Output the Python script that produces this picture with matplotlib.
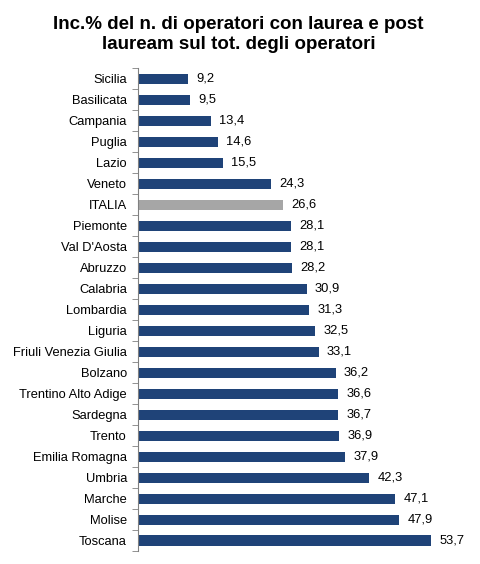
import numpy as np
import matplotlib
matplotlib.use("Agg")
import matplotlib.pyplot as plt
from matplotlib.ticker import FixedLocator

plt.rcParams['font.family'] = ['Liberation Sans', 'DejaVu Sans']

regioni = ["Sicilia", "Basilicata", "Campania", "Puglia", "Lazio", "Veneto",
           "ITALIA", "Piemonte", "Val D'Aosta", "Abruzzo", "Calabria",
           "Lombardia", "Liguria", "Friuli Venezia Giulia", "Bolzano",
           "Trentino Alto Adige", "Sardegna", "Trento", "Emilia Romagna",
           "Umbria", "Marche", "Molise", "Toscana"]
valori = [9.2, 9.5, 13.4, 14.6, 15.5, 24.3, 26.6, 28.1, 28.1, 28.2, 30.9,
          31.3, 32.5, 33.1, 36.2, 36.6, 36.7, 36.9, 37.9, 42.3, 47.1, 47.9, 53.7]

blu = "#1F4378"
grigio = "#A6A6A6"
colori = [grigio if r == "ITALIA" else blu for r in regioni]

fig = plt.figure(figsize=(4.8, 5.64), dpi=100)
ax = fig.add_axes([0.2875, 0.023, 0.68, 0.856])

y = np.arange(len(regioni))
ax.barh(y, valori, height=0.48, color=colori)

for yi, v in zip(y, valori):
    ax.annotate(f"{v:.1f}".replace(".", ","), (v, yi), xytext=(6, 0),
                textcoords="offset points", va="center", ha="left", fontsize=9.3)

ax.set_xlim(0, 59.8)
ax.set_ylim(len(regioni) - 0.5, -0.5)
ax.set_yticks(y)
ax.set_yticklabels(regioni, fontsize=9.3)
ax.yaxis.set_minor_locator(FixedLocator(np.arange(-0.5, len(regioni), 1)))
ax.tick_params(axis="y", which="major", length=0, pad=8)
ax.tick_params(axis="y", which="minor", length=4, direction="out", color="#808080")
ax.set_xticks([])
for s in ["top", "right", "bottom"]:
    ax.spines[s].set_visible(False)
ax.spines["left"].set_color("#808080")
ax.spines["left"].set_linewidth(0.8)

fig.text(0.497, 0.939, "Inc.% del n. di operatori con laurea e post\nlauream sul tot. degli operatori",
         ha="center", va="center", fontsize=13.5, fontweight="bold", linespacing=1.25)

fig.savefig("out.png", dpi=100)
